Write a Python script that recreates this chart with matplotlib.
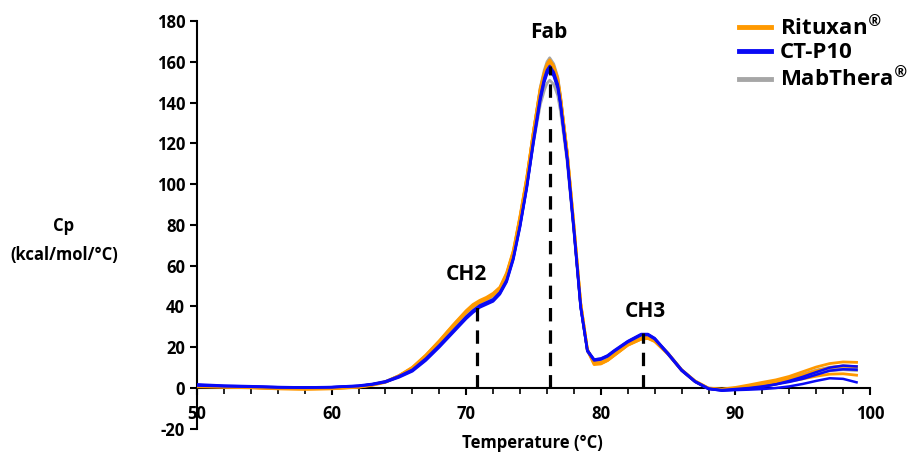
import matplotlib
matplotlib.use("Agg")
import matplotlib.pyplot as plt
from matplotlib.ticker import MultipleLocator

plt.rcParams['font.family'] = ['Open Sans', 'DejaVu Sans']
plt.rcParams['font.weight'] = 'bold'
plt.rcParams['axes.unicode_minus'] = False

# temperature grid (deg C)
temp = [50, 52, 54, 56, 58, 60, 62, 63, 64, 65, 66, 67, 68, 69, 70, 70.5, 71, 71.5,
        72, 72.5, 73, 73.5, 74, 74.5, 75, 75.5, 75.8, 76, 76.2, 76.5, 76.8, 77, 77.5,
        78, 78.5, 79, 79.5, 80, 80.5, 81, 82, 83, 83.5, 84, 85, 86, 87, 88, 89, 90,
        91, 92, 93, 94, 95, 96, 97, 98, 99]

# Rituxan lots
rit_1 = [0.8, 0.5, 0.2, -0.3, -0.5, -0.3, 0.5, 1.5, 3.0, 6.0, 10.0, 16.0, 23.0, 30.5, 37.5,
         40.5, 42.5, 44.0, 46.0, 49.0, 56.0, 67.0, 84.0, 103.0, 126.0, 147.0, 155.0,
         159.0, 161.0, 158.0, 152.0, 143.0, 116.0, 80.0, 42.0, 19.0, 12.5, 12.5,
         14.0, 16.5, 21.5, 24.5, 25.0, 23.5, 17.0, 9.0, 3.5, 0.0, -0.5, 0.3,
         1.5, 2.8, 4.0, 5.7, 8.0, 10.3, 12.0, 12.8, 12.6]
rit_2 = [0.6, 0.4, 0.1, -0.4, -0.6, -0.4, 0.4, 1.3, 2.8, 5.8, 9.8, 15.8, 22.8, 30.0, 37.0,
         40.0, 42.0, 43.5, 45.5, 48.5, 55.5, 66.5, 83.5, 102.5, 125.5, 146.0, 154.0,
         158.0, 160.0, 157.0, 151.0, 142.5, 115.5, 79.5, 41.5, 19.0, 12.0, 12.0,
         13.5, 16.0, 21.0, 24.0, 24.5, 23.0, 16.8, 8.8, 3.3, -0.2, -0.7, 0.0,
         0.8, 1.8, 3.0, 4.5, 6.5, 8.5, 10.0, 10.8, 10.5]
rit_3 = [0.9, 0.6, 0.3, -0.2, -0.4, -0.2, 0.6, 1.6, 3.1, 6.1, 10.2, 16.2, 23.2, 30.8, 38.0,
         41.0, 43.0, 44.5, 46.5, 49.5, 56.5, 67.5, 84.5, 103.5, 126.0, 146.5, 154.0,
         157.5, 159.0, 156.5, 150.5, 142.0, 115.0, 79.0, 41.5, 18.5, 11.5, 11.8,
         13.5, 16.0, 21.0, 24.0, 24.3, 22.8, 16.5, 8.7, 3.2, -0.3, -0.8, -0.3,
         0.3, 1.2, 2.2, 3.3, 4.5, 5.8, 6.8, 7.0, 6.3]

# CT-P10 lots
ctp_1 = [1.5, 1.0, 0.8, 0.4, 0.3, 0.5, 1.2, 2.0, 3.3, 5.8, 9.0, 14.5, 21.0, 28.0, 35.0,
         38.0, 40.5, 42.0, 43.5, 47.0, 53.0, 64.0, 80.0, 99.0, 122.0, 143.0, 152.0,
         156.0, 158.0, 155.0, 149.0, 140.0, 113.0, 78.0, 40.0, 18.0, 13.5, 14.0,
         15.5, 18.0, 22.5, 26.0, 26.0, 24.0, 16.5, 8.5, 3.0, -0.5, -1.2, -0.8,
         -0.3, 0.5, 1.8, 3.5, 5.5, 7.8, 10.0, 11.0, 10.6]
ctp_2 = [1.2, 0.9, 0.6, 0.3, 0.2, 0.4, 1.0, 1.8, 3.0, 5.5, 8.6, 14.0, 20.5, 27.5, 34.5,
         37.5, 40.0, 41.5, 43.0, 46.5, 52.5, 63.5, 79.5, 98.5, 121.0, 142.0, 151.0,
         155.0, 157.0, 154.0, 148.0, 139.5, 112.5, 77.5, 40.0, 18.5, 14.0, 14.3,
         15.8, 18.2, 22.8, 26.2, 26.3, 24.3, 16.8, 8.8, 3.2, -0.3, -1.0, -0.5,
         0.0, 0.8, 1.8, 3.0, 4.5, 6.5, 8.5, 9.2, 9.0]
ctp_3 = [1.8, 1.2, 0.9, 0.5, 0.3, 0.4, 1.0, 1.7, 2.9, 5.2, 8.2, 13.5, 20.0, 27.0, 34.0,
         37.0, 39.5, 41.0, 42.5, 46.0, 52.0, 63.0, 79.0, 98.0, 120.5, 141.0, 150.0,
         154.0, 156.0, 153.0, 147.0, 139.0, 112.0, 77.0, 39.5, 18.5, 14.0, 14.5,
         16.0, 18.5, 23.0, 26.5, 26.5, 24.5, 17.0, 9.0, 3.3, -0.3, -1.3, -1.0,
         -0.8, -0.5, 0.0, 0.8, 2.0, 3.5, 4.8, 4.5, 2.8]

# MabThera lots
mab_1 = [1.0, 0.7, 0.4, 0.0, -0.2, 0.0, 0.8, 1.7, 3.1, 6.0, 9.6, 15.3, 22.0, 29.3, 36.3,
         39.3, 41.5, 43.0, 45.0, 48.2, 55.0, 66.0, 83.0, 102.5, 126.0, 147.5, 156.0,
         160.0, 162.0, 159.0, 152.5, 143.5, 115.0, 79.0, 41.0, 18.5, 12.8, 13.0,
         14.6, 17.0, 22.0, 25.0, 25.5, 23.8, 16.8, 8.8, 3.3, -0.2, -0.8, -0.2,
         0.8, 2.0, 3.2, 4.8, 6.8, 8.8, 10.2, 10.8, 10.5]
mab_2 = [1.0, 0.7, 0.4, 0.1, -0.1, 0.1, 0.8, 1.7, 3.0, 5.8, 9.4, 15.0, 21.7, 29.0, 36.0,
         39.0, 41.2, 42.8, 44.6, 47.8, 54.5, 65.5, 82.0, 101.0, 123.5, 143.5, 151.0,
         154.5, 156.0, 153.5, 147.5, 139.5, 113.0, 78.0, 40.5, 18.5, 13.0, 13.2,
         14.8, 17.2, 22.2, 25.2, 25.6, 23.9, 16.9, 8.9, 3.3, -0.2, -0.9, -0.4,
         0.5, 1.6, 2.8, 4.3, 6.2, 8.0, 9.3, 9.8, 9.5]
mab_3 = [1.1, 0.8, 0.5, 0.1, 0.0, 0.2, 0.9, 1.8, 3.1, 5.9, 9.5, 15.1, 21.8, 29.1, 36.0,
         39.0, 41.0, 42.5, 44.3, 47.3, 54.0, 64.8, 81.0, 99.5, 120.5, 139.0, 146.0,
         149.5, 151.0, 149.0, 143.5, 136.0, 111.0, 77.0, 40.0, 18.3, 13.0, 13.3,
         14.9, 17.3, 22.3, 25.3, 25.7, 24.0, 17.0, 9.0, 3.4, -0.2, -1.0, -0.5,
         0.3, 1.3, 2.5, 3.9, 5.6, 7.3, 8.5, 9.0, 8.6]

# transition markers
peak_names = ['CH2', 'Fab', 'CH3']
peak_temp = [70.8, 76.2, 83.15]
peak_cp = [40.5, 158, 27]
label_temp = [70.0, 76.15, 83.3]
label_cp = [55.5, 174.5, 37.5]

series_names = ['Rituxan$^{®}$', 'CT-P10', 'MabThera$^{®}$']

c_rit = '#FF9900'
c_ctp = '#0A0AF5'
c_mab = '#A6A6A6'

fig = plt.figure(figsize=(9.19, 4.54), dpi=100)
ax = fig.add_axes([0.2144, 0.0555, 0.7323, 0.898])

for y in [mab_1, mab_2, mab_3]:
    ax.plot(temp, y, color=c_mab, lw=2, zorder=2)
for y in [rit_1, rit_2, rit_3]:
    ax.plot(temp, y, color=c_rit, lw=2, zorder=3)
for y in [ctp_1, ctp_2, ctp_3]:
    ax.plot(temp, y, color=c_ctp, lw=1.8, zorder=4)

for t, top in zip(peak_temp, peak_cp):
    ax.plot([t, t], [0, top], color='black', lw=2.3, ls=(0, (4.2, 2.8)), zorder=5)
for name, t, c in zip(peak_names, label_temp, label_cp):
    ax.text(t, c, name, ha='center', va='center', fontsize=15, fontweight='bold')

ax.set_xlim(50, 100)
ax.set_ylim(-20, 180)
ax.spines['top'].set_visible(False)
ax.spines['right'].set_visible(False)
ax.spines['bottom'].set_position(('data', 0))
ax.spines['bottom'].set_linewidth(1.5)
ax.spines['left'].set_linewidth(1.5)
ax.xaxis.set_major_locator(MultipleLocator(10))
ax.xaxis.set_minor_locator(MultipleLocator(2))
ax.yaxis.set_major_locator(MultipleLocator(20))
ax.tick_params(axis='x', which='major', direction='out', length=5, width=1.5,
               pad=7, labelsize=12)
ax.tick_params(axis='x', which='minor', direction='out', length=4, width=1.2)
ax.tick_params(axis='y', direction='out', length=5, width=1.5, labelsize=12)
for lab in ax.get_xticklabels() + ax.get_yticklabels():
    lab.set_fontweight('bold')

fig.text(64 / 919, 1 - 226 / 454, 'Cp', ha='center', va='center', fontsize=12,
         fontweight='bold')
fig.text(64 / 919, 1 - 255 / 454, '(kcal/mol/°C)', ha='center', va='center',
         fontsize=12, fontweight='bold')
fig.text(532 / 919, 2 / 454, 'Temperature (°C)', ha='center', va='bottom',
         fontsize=12, fontweight='bold')

handles = [plt.Line2D([], [], color=c, lw=3.5) for c in [c_rit, c_ctp, c_mab]]
fig.legend(handles, series_names, loc='upper right',
           bbox_to_anchor=(1.01, 1.012), frameon=False,
           handlelength=1.45, handletextpad=0.4, labelspacing=0.12,
           prop={'weight': 'bold', 'size': 16})

fig.savefig('out.png', dpi=100)
